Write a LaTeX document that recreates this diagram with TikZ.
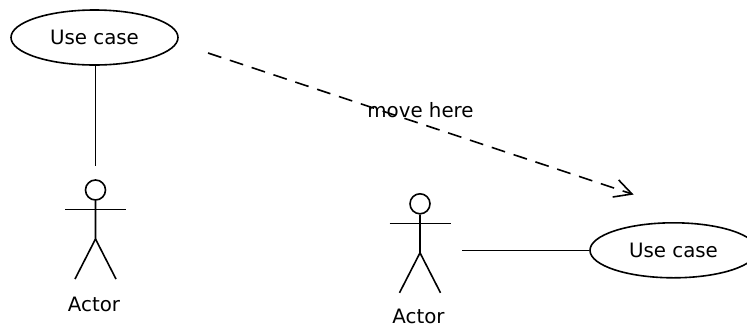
\documentclass[tikz,border=0pt]{standalone}
\usepackage{fontspec}
\setmainfont{DejaVu Sans}
\usetikzlibrary{shapes.geometric,arrows.meta}
\tikzset{
  line/.style={line width=1.6pt,black},
  usecase/.style={draw,line width=1.6pt,ellipse,minimum width=167pt,minimum height=55pt,inner sep=0pt,font=\fontsize{19.8}{23}\selectfont},
  lbl/.style={inner sep=0pt,font=\fontsize{19.8}{23}\selectfont},
  headc/.style={draw,line width=1.6pt,circle,minimum size=20pt,inner sep=0pt},
  pics/stick/.style={code={
    \node[headc] (-head) at (0,0) {};
    \coordinate (-arml) at (-30.5,19.5);
    \coordinate (-armr) at (30.5,19.5);
    \coordinate (-hip) at (0,49);
    \coordinate (-footl) at (-20.5,89);
    \coordinate (-footr) at (20.5,89);
    \draw[line] (-head.south) -- (-hip) -- (-footl);
    \draw[line] (-hip) -- (-footr);
    \draw[line] (-arml) -- (-armr);
  }}
}
\begin{document}
\begin{tikzpicture}[x=1pt,y=-1pt]
\useasboundingbox (0,0) rectangle (747,325);
\clip (0,0) rectangle (747,325);
\node[usecase] (uc1) at (94.5,37.5) {\raisebox{-1pt}{Use case}};
\node[usecase] (uc2) at (673.5,250.3) {\raisebox{-1pt}{Use case}};
\pic (a1) at (95.5,190) {stick};
\pic (a2) at (420,203.8) {stick};
\node[lbl] (l1) at (94,304.5) {Actor};
\node[lbl] (l2) at (418.5,316.5) {Actor};
\node[lbl] (mv) at (420.5,110.5) {move here};
\coordinate (t1) at (95.5,166);
\coordinate (s2) at (462,250.3);
\coordinate (ds) at (208,53);
\coordinate (de) at (632,194);
\draw[line] (uc1.south -| t1) -- (t1);
\draw[line] (s2) -- (uc2.west);
\draw[line,dash pattern=on 14pt off 9pt] (ds) -- (de);
\coordinate (b1) at (618.7,180);
\coordinate (b2) at (612.7,197);
\draw[line] (b1) -- (de) -- (b2);
\end{tikzpicture}
\end{document}
